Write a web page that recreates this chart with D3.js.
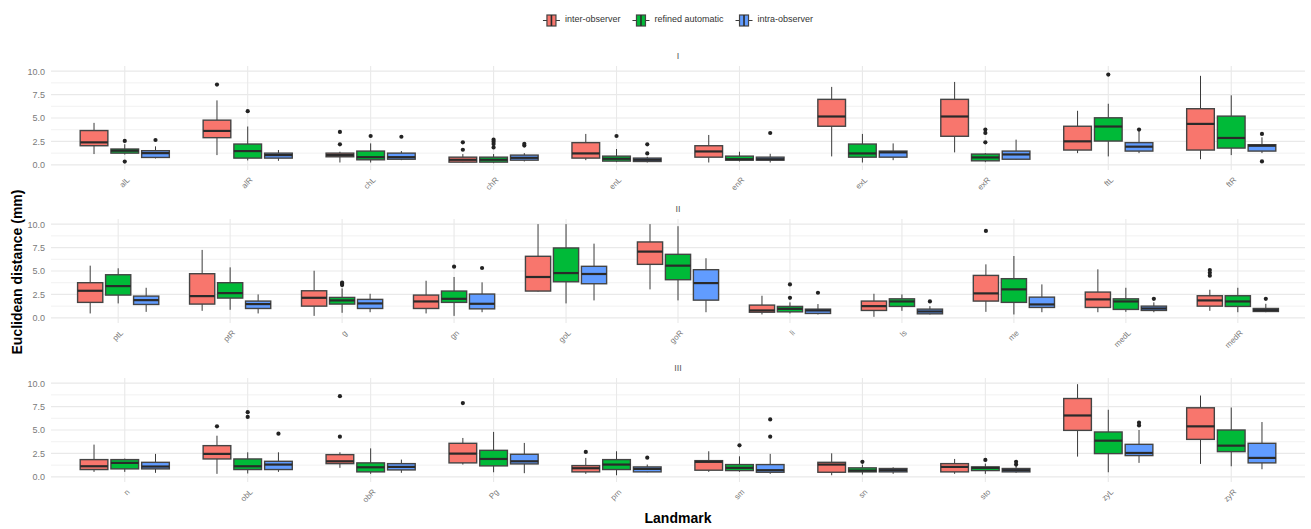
<!DOCTYPE html>
<html>
<head>
<meta charset="utf-8">
<script src="https://cdn.jsdelivr.net/npm/d3@7"></script>
<style>
  body { margin: 0; background: #fff; }
  text { font-family: "Liberation Sans", Arial, sans-serif; }
</style>
</head>
<body>
<svg id="chart" width="1311" height="529"></svg>
<script>
// ---- data -------------------------------------------------------------
// Each box: [lower whisker, Q1, median, Q3, upper whisker] in mm.
const groups = ["inter-observer", "refined automatic", "intra-observer"];
const panelNames = ["I", "II", "III"];

const landmarksI = ["alL", "alR", "chL", "chR", "enL", "enR", "exL", "exR", "ftL", "ftR"];
const landmarksII = ["ptL", "ptR", "g", "gn", "goL", "goR", "li", "ls", "me", "medL", "medR"];
const landmarksIII = ["n", "obL", "obR", "Pg", "prn", "sm", "sn", "sto", "zyL", "zyR"];

const yTicks = [0, 2.5, 5, 7.5, 10];
const yMinorTicks = [1.25, 3.75, 6.25, 8.75];

// Panel I
const interI = [
  [1.15, 2.04, 2.40, 3.66, 4.48], [1.04, 2.90, 3.62, 4.77, 6.88], [0.25, 0.86, 1.04, 1.25, 1.40],
  [0.25, 0.29, 0.54, 0.82, 1.15], [0.50, 0.72, 1.22, 2.37, 3.30], [0.25, 0.82, 1.43, 2.04, 3.19],
  [0.90, 4.12, 5.16, 6.99, 8.32], [1.33, 3.05, 5.16, 6.99, 8.85], [1.25, 1.58, 2.51, 4.12, 5.77],
  [0.60, 1.58, 4.37, 5.99, 9.50]
];
const interOutI = [[], [8.57], [2.19, 3.51], [1.61, 2.40], [], [], [], [], [], []];
const autoI = [
  [1.10, 1.25, 1.51, 1.69, 2.20], [0.47, 0.72, 1.47, 2.22, 4.09], [0.25, 0.54, 0.82, 1.47, 2.29],
  [0.18, 0.29, 0.54, 0.82, 1.15], [0.29, 0.40, 0.65, 0.93, 1.69], [0.36, 0.50, 0.60, 0.93, 1.40],
  [0.25, 0.82, 1.22, 2.22, 3.30], [0.29, 0.43, 0.79, 1.15, 1.25], [0.90, 2.54, 4.09, 5.02, 6.52],
  [1.04, 1.79, 2.87, 5.20, 7.42]
];
const autoOutI = [[0.35, 2.55], [5.73], [3.08], [1.86, 2.22, 2.47, 2.69], [3.08], [], [], [2.40, 3.41, 3.76], [9.64], []];
const intraI = [
  [0.68, 0.79, 1.25, 1.51, 1.97], [0.43, 0.72, 1.04, 1.25, 1.58], [0.50, 0.60, 0.82, 1.25, 1.47],
  [0.36, 0.50, 0.75, 1.04, 1.25], [0.25, 0.36, 0.54, 0.72, 0.86], [0.25, 0.50, 0.60, 0.82, 1.18],
  [0.50, 0.82, 1.33, 1.47, 2.29], [0.54, 0.60, 1.11, 1.47, 2.69], [1.25, 1.47, 1.94, 2.37, 3.60],
  [1.25, 1.47, 2.04, 2.15, 2.94]
];
const intraOutI = [[2.65], [], [3.00], [2.06, 2.24], [1.22, 2.19], [3.40], [], [], [3.76], [0.36, 3.30]];

// Panel II
const interII = [
  [0.47, 1.65, 2.89, 3.75, 5.57], [0.75, 1.47, 2.32, 4.71, 7.25], [0.21, 1.25, 2.14, 2.89, 5.03],
  [0.47, 1.00, 1.75, 2.43, 3.96], [2.80, 2.86, 4.36, 6.57, 10.0], [3.04, 5.71, 7.07, 8.10, 10.0],
  [0.36, 0.60, 0.79, 1.36, 2.36], [0.11, 0.79, 1.25, 1.79, 2.57], [0.64, 1.79, 2.61, 4.53, 5.71],
  [0.60, 1.11, 1.97, 2.75, 5.18], [0.75, 1.25, 1.86, 2.36, 3.00]
];
const interOutII = [[], [], [], [], [], [], [], [], [9.28], [], [4.50, 4.80, 5.10]];
const autoII = [
  [1.54, 2.43, 3.39, 4.60, 5.29], [0.86, 2.11, 2.64, 3.75, 5.39], [0.54, 1.47, 1.86, 2.18, 3.14],
  [0.21, 1.65, 2.03, 2.86, 4.36], [1.54, 3.85, 4.78, 7.46, 10.0], [1.86, 4.07, 5.57, 6.78, 9.78],
  [0.47, 0.64, 0.96, 1.22, 1.65], [0.75, 1.22, 1.75, 2.03, 2.50], [0.36, 1.65, 3.04, 4.18, 6.60],
  [0.64, 0.90, 1.75, 2.03, 3.21], [0.60, 1.22, 1.75, 2.36, 3.21]
];
const autoOutII = [[], [], [3.50, 3.65, 3.75], [5.46], [], [], [2.14, 3.57], [], [], [], []];
const intraII = [
  [0.64, 1.43, 1.89, 2.32, 3.21], [0.47, 1.00, 1.47, 1.79, 2.50], [0.60, 1.00, 1.54, 1.97, 2.57],
  [0.60, 0.96, 1.50, 2.54, 3.79], [1.86, 3.64, 4.68, 5.50, 7.92], [0.60, 1.89, 3.71, 5.14, 6.36],
  [0.36, 0.47, 0.79, 0.93, 1.47], [0.36, 0.43, 0.68, 0.93, 1.25], [0.60, 1.11, 1.43, 2.21, 3.57],
  [0.60, 0.79, 1.00, 1.25, 1.65], [0.60, 0.68, 0.82, 1.00, 1.50]
];
const intraOutII = [[], [], [], [5.32], [], [], [2.68], [1.75], [], [2.03], [2.03]];

// Panel III
const interIII = [
  [0.53, 0.78, 1.13, 1.84, 3.44], [0.32, 1.91, 2.45, 3.33, 4.39], [0.96, 1.41, 1.66, 2.37, 2.62],
  [1.31, 1.49, 2.48, 3.58, 4.15], [0.32, 0.53, 0.92, 1.20, 2.02], [0.53, 0.71, 1.60, 1.73, 2.73],
  [0.17, 0.49, 1.31, 1.55, 2.51], [0.32, 0.53, 1.06, 1.41, 1.91], [2.16, 4.96, 6.55, 8.36, 9.89],
  [1.38, 4.00, 5.39, 7.37, 8.68]
];
const interOutIII = [[], [5.39], [4.29, 8.61], [7.87], [2.66], [], [], [], [], []];
const autoIII = [
  [0.53, 0.85, 1.49, 1.84, 1.95], [0.36, 0.78, 1.13, 1.91, 2.62], [0.32, 0.53, 1.02, 1.49, 3.04],
  [0.49, 1.17, 1.91, 2.83, 4.79], [0.17, 0.78, 1.31, 1.84, 2.73], [0.53, 0.67, 0.96, 1.31, 2.19],
  [0.25, 0.53, 0.67, 0.96, 1.31], [0.32, 0.67, 0.96, 1.06, 1.41], [0.49, 2.48, 3.86, 4.79, 7.16],
  [1.13, 2.69, 3.33, 5.00, 7.40]
];
const autoOutIII = [[], [6.40, 6.90], [], [], [], [3.36], [1.60], [1.81], [], []];
const intraIII = [
  [0.43, 0.85, 1.10, 1.55, 2.45], [0.53, 0.78, 1.31, 1.66, 2.62], [0.43, 0.74, 1.06, 1.41, 1.84],
  [0.39, 1.38, 1.66, 2.41, 3.62], [0.49, 0.53, 0.85, 1.06, 1.31], [0.32, 0.49, 0.71, 1.31, 2.45],
  [0.32, 0.53, 0.71, 0.89, 1.02], [0.43, 0.53, 0.71, 0.89, 1.13], [1.49, 2.27, 2.55, 3.47, 5.00],
  [0.81, 1.49, 2.02, 3.58, 5.85]
];
const intraOutIII = [[], [4.61], [], [], [2.05], [4.29, 6.13], [], [1.31, 1.60], [5.49, 5.78], []];

// ---- styling & layout -------------------------------------------------
const fillColors = ["#F8766D", "#00BA38", "#619CFF"];
const plotLeft = 51, plotRight = 1305;
const panelTops = [66, 219, 378];
const panelHeight = 104;
const axisGrey = "#7a7a7a";

const panels = [
  { name: panelNames[0], landmarks: landmarksI,
    stats: [interI, autoI, intraI], outliers: [interOutI, autoOutI, intraOutI] },
  { name: panelNames[1], landmarks: landmarksII,
    stats: [interII, autoII, intraII], outliers: [interOutII, autoOutII, intraOutII] },
  { name: panelNames[2], landmarks: landmarksIII,
    stats: [interIII, autoIII, intraIII], outliers: [interOutIII, autoOutIII, intraOutIII] }
];

const svg = d3.select("#chart");
svg.append("rect").attr("width", 1311).attr("height", 529).attr("fill", "#fff");

panels.forEach((p, pi) => {
  const top = panelTops[pi];
  const bottom = top + panelHeight;
  const g = svg.append("g").attr("class", "panel");

  const x = d3.scaleBand().domain(p.landmarks).range([plotLeft, plotRight])
    .paddingInner(0).paddingOuter(0.1);
  const S = x.step();
  const dodge = d3.scaleBand().domain(groups).range([-0.375 * S, 0.375 * S])
    .paddingInner(0.1).paddingOuter(0.05);
  const bw = dodge.bandwidth();
  const y = d3.scaleLinear().domain([-0.55, 10.55]).range([bottom, top]);

  // grid
  g.selectAll("line.minor").data(yMinorTicks).join("line")
    .attr("x1", plotLeft).attr("x2", plotRight)
    .attr("y1", d => y(d)).attr("y2", d => y(d))
    .attr("stroke", "#f1f1f1").attr("stroke-width", 1);
  g.selectAll("line.major").data(yTicks).join("line")
    .attr("x1", plotLeft).attr("x2", plotRight)
    .attr("y1", d => y(d)).attr("y2", d => y(d))
    .attr("stroke", "#e9e9e9").attr("stroke-width", 1.1);
  g.selectAll("line.vgrid").data(p.landmarks).join("line")
    .attr("x1", d => x(d) + S / 2).attr("x2", d => x(d) + S / 2)
    .attr("y1", top).attr("y2", bottom)
    .attr("stroke", "#e9e9e9").attr("stroke-width", 1.1);

  // y axis
  const yAxis = d3.axisLeft(y).tickValues(yTicks).tickFormat(d3.format(".1f"))
    .tickSize(0).tickPadding(6);
  const ya = g.append("g").attr("transform", `translate(${plotLeft},0)`).call(yAxis);
  ya.select(".domain").remove();
  ya.selectAll("text").attr("fill", axisGrey).style("font-size", "9px")
    .style("font-family", "'Liberation Sans', Arial, sans-serif");

  // x tick labels, rotated 45 degrees
  g.selectAll("text.xlab").data(p.landmarks).join("text")
    .attr("class", "xlab")
    .attr("transform", d => `translate(${x(d) + S / 2 + 4},${bottom + 9}) rotate(-45)`)
    .attr("text-anchor", "end").attr("dominant-baseline", "middle")
    .attr("fill", axisGrey).style("font-size", "8px")
    .text(d => d);

  // strip title
  g.append("text").attr("x", (plotLeft + plotRight) / 2).attr("y", top - 7)
    .attr("text-anchor", "middle").attr("fill", "#555").style("font-size", "9px")
    .text(p.name);

  // boxes
  groups.forEach((grp, gi) => {
    const gg = g.append("g").attr("class", "series");
    p.landmarks.forEach((lm, li) => {
      const [lo, q1, med, q3, hi] = p.stats[gi][li];
      const cx = x(lm) + S / 2 + dodge(grp) + bw / 2;
      // whiskers
      gg.append("line").attr("x1", cx).attr("x2", cx).attr("y1", y(hi)).attr("y2", y(q3))
        .attr("stroke", "#3a3a3a").attr("stroke-width", 1);
      gg.append("line").attr("x1", cx).attr("x2", cx).attr("y1", y(q1)).attr("y2", y(lo))
        .attr("stroke", "#3a3a3a").attr("stroke-width", 1);
      // box
      gg.append("rect").attr("x", cx - bw / 2).attr("width", bw)
        .attr("y", y(q3)).attr("height", Math.max(0.5, y(q1) - y(q3)))
        .attr("fill", fillColors[gi]).attr("stroke", "#444").attr("stroke-width", 1.4);
      // median
      gg.append("line").attr("x1", cx - bw / 2).attr("x2", cx + bw / 2)
        .attr("y1", y(med)).attr("y2", y(med))
        .attr("stroke", "#2a2a2a").attr("stroke-width", 2.2);
      // outliers
      gg.selectAll(null).data(p.outliers[gi][li]).join("circle")
        .attr("cx", cx).attr("cy", d => y(d)).attr("r", 2.1).attr("fill", "#222");
    });
  });
});

// axis titles
svg.append("text").attr("transform", "translate(22,272) rotate(-90)")
  .attr("text-anchor", "middle").attr("fill", "#000")
  .style("font-size", "14px").style("font-weight", "bold")
  .text("Euclidean distance (mm)");
svg.append("text").attr("x", (plotLeft + plotRight) / 2).attr("y", 523)
  .attr("text-anchor", "middle").attr("fill", "#000")
  .style("font-size", "14px").style("font-weight", "bold")
  .text("Landmark");

// legend (top, centred over the panels)
const legend = svg.append("g").attr("class", "legend");
const items = legend.selectAll("g").data(groups).join("g");
items.append("text").attr("class", "ltext").attr("y", 20)
  .attr("dominant-baseline", "middle").attr("fill", "#333").style("font-size", "9px")
  .text(d => d);
const widths = [];
items.select("text").each(function () { widths.push(this.getComputedTextLength()); });
const keyW = 17, keyGap = 5, itemGap = 12;
const total = d3.sum(widths) + groups.length * (keyW + keyGap) + (groups.length - 1) * itemGap;
let cursor = (plotLeft + plotRight) / 2 - total / 2;
items.each(function (d, i) {
  const it = d3.select(this);
  const kx = cursor;
  it.insert("line", "text").attr("x1", kx).attr("x2", kx + keyW).attr("y1", 20.5).attr("y2", 20.5)
    .attr("stroke", "#3a3a3a").attr("stroke-width", 1);
  it.insert("rect", "text").attr("x", kx + 4).attr("y", 15).attr("width", keyW - 8).attr("height", 11)
    .attr("fill", fillColors[i]).attr("stroke", "#444").attr("stroke-width", 1.2);
  it.insert("line", "text").attr("x1", kx + keyW / 2).attr("x2", kx + keyW / 2).attr("y1", 15).attr("y2", 26)
    .attr("stroke", "#2a2a2a").attr("stroke-width", 1.6);
  it.select("text").attr("x", kx + keyW + keyGap);
  cursor += keyW + keyGap + widths[i] + itemGap;
});
</script>
</body>
</html>
